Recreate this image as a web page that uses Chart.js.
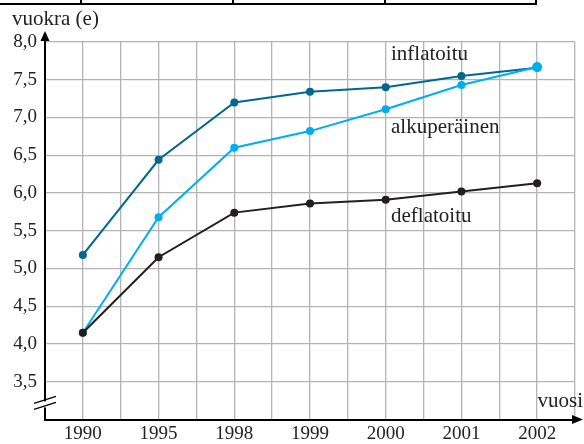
<!DOCTYPE html>
<html>
<head>
<meta charset="utf-8">
<script src="https://cdn.jsdelivr.net/npm/chart.js@4"></script>
<style>
  html, body { margin: 0; padding: 0; background: #fff; }
  #wrap { width: 584px; height: 444px; }
</style>
</head>
<body>
<div id="wrap"><canvas id="myChart" width="584" height="444"></canvas></div>
<script>
const years = ['1990', '1995', '1998', '1999', '2000', '2001', '2002'];
const inflatoitu = [5.18, 6.44, 7.20, 7.34, 7.40, 7.55, 7.66];
const alkuperainen = [4.15, 5.68, 6.60, 6.82, 7.11, 7.43, 7.67];
const deflatoitu = [4.15, 5.15, 5.74, 5.86, 5.91, 6.02, 6.13];
const yTicks = [3.5, 4.0, 4.5, 5.0, 5.5, 6.0, 6.5, 7.0, 7.5, 8.0];

const serif = '"Liberation Serif", "DejaVu Serif", serif';

const toPoints = arr => arr.map((v, i) => ({ x: i, y: v }));

const lineSet = (label, values, color, lastRadius, order) => ({
  label,
  order,
  data: toPoints(values),
  borderColor: color,
  backgroundColor: color,
  borderWidth: 2,
  pointRadius: values.map((v, i) => (i === values.length - 1 ? lastRadius : 4)),
  pointHoverRadius: 4,
  pointBorderWidth: 0,
  tension: 0,
});

// seriesnimet piirretään kaavion sisään
const seriesLabels = [
  { text: 'inflatoitu', x: 4.07, y: 7.84 },
  { text: 'alkuperäinen', x: 4.07, y: 6.87 },
  { text: 'deflatoitu', x: 4.07, y: 5.69 },
];

const decorations = {
  id: 'decorations',
  afterDraw(chart) {
    const { ctx, chartArea: a, scales } = chart;
    ctx.save();

    // taulukon alareuna kuvan yläosassa
    ctx.strokeStyle = '#000';
    ctx.lineWidth = 2;
    ctx.beginPath();
    ctx.moveTo(0, 4); ctx.lineTo(537, 4);
    [81, 233, 385, 536].forEach(x => { ctx.moveTo(x, 0); ctx.lineTo(x, 4); });
    ctx.stroke();

    // akselien nuolet
    ctx.fillStyle = '#000';
    ctx.lineWidth = 2;
    ctx.beginPath();
    ctx.moveTo(a.left, a.top); ctx.lineTo(a.left, a.top - 4);
    ctx.moveTo(a.right, a.bottom); ctx.lineTo(a.right + 2, a.bottom);
    ctx.stroke();
    ctx.beginPath();
    ctx.moveTo(a.left, a.top - 11);
    ctx.lineTo(a.left - 4.5, a.top - 1);
    ctx.lineTo(a.left + 4.5, a.top - 1);
    ctx.closePath();
    ctx.fill();
    ctx.beginPath();
    ctx.moveTo(a.right + 8, a.bottom);
    ctx.lineTo(a.right - 3, a.bottom - 4.5);
    ctx.lineTo(a.right - 3, a.bottom + 4.5);
    ctx.closePath();
    ctx.fill();

    // katkomerkki y-akselilla
    const yb = scales.y.getPixelForValue(3.2);
    ctx.fillStyle = '#fff';
    ctx.fillRect(a.left - 2, yb - 3, 4, 6);
    ctx.strokeStyle = '#000';
    ctx.lineWidth = 1.2;
    ctx.beginPath();
    ctx.moveTo(a.left - 11, yb - 1); ctx.lineTo(a.left + 11, yb - 8);
    ctx.moveTo(a.left - 11, yb + 5); ctx.lineTo(a.left + 11, yb - 2);
    ctx.stroke();

    // otsikot
    ctx.fillStyle = '#222';
    ctx.font = '21px ' + serif;
    ctx.textBaseline = 'alphabetic';
    ctx.textAlign = 'left';
    ctx.fillText('vuokra (e)', 12, 25);
    ctx.textAlign = 'right';
    ctx.fillText('vuosi', 583, 407);

    ctx.textAlign = 'left';
    ctx.textBaseline = 'middle';
    seriesLabels.forEach(l => {
      ctx.fillText(l.text, scales.x.getPixelForValue(l.x), scales.y.getPixelForValue(l.y));
    });
    ctx.restore();
  },
};

new Chart(document.getElementById('myChart').getContext('2d'), {
  type: 'line',
  data: {
    datasets: [
      lineSet('inflatoitu', inflatoitu, '#00688f', 4, 2),
      lineSet('alkuperäinen', alkuperainen, '#00adef', 5, 1),
      lineSet('deflatoitu', deflatoitu, '#231f20', 4, 0),
    ],
  },
  options: {
    responsive: false,
    animation: false,
    layout: { padding: { top: 42, right: 9, left: 0, bottom: 0 } },
    plugins: { legend: { display: false }, tooltip: { enabled: false } },
    scales: {
      x: {
        type: 'linear',
        min: -0.5,
        max: 6.5,
        afterFit: s => { s.height = 24.5; },
        afterBuildTicks: s => {
          const t = [];
          for (let v = -0.5; v <= 6.5001; v += 0.5) t.push({ value: v });
          s.ticks = t;
        },
        ticks: {
          autoSkip: false,
          maxRotation: 0,
          padding: 3,
          color: '#222',
          font: { family: serif, size: 19 },
          callback: v => (Number.isInteger(v) ? years[v] : ''),
        },
        grid: { color: '#b3b3b3', lineWidth: 1.3, drawTicks: false },
        border: { color: '#000', width: 2 },
      },
      y: {
        min: 3,
        max: 8,
        afterFit: s => { s.width = 45; },
        afterBuildTicks: s => {
          s.ticks = [{ value: 3 }].concat(yTicks.map(v => ({ value: v })));
        },
        ticks: {
          padding: 8,
          color: '#222',
          font: { family: serif, size: 19 },
          callback: v => (v === 3 ? '' : v.toFixed(1).replace('.', ',')),
        },
        grid: { color: '#b3b3b3', lineWidth: 1.3, drawTicks: false },
        border: { color: '#000', width: 2 },
      },
    },
  },
  plugins: [decorations],
});
</script>
</body>
</html>
